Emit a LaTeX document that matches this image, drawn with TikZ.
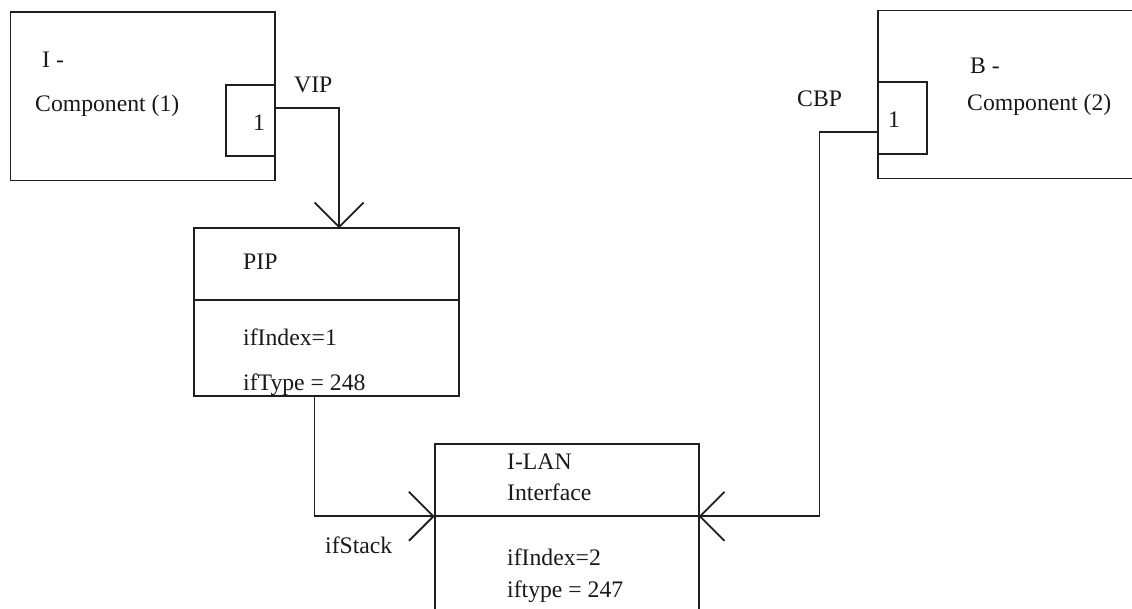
\documentclass[tikz,border=0pt]{standalone}
\usepackage{fontspec}
\setmainfont{Liberation Serif}
\usetikzlibrary{arrows.meta}
\begin{document}
\begin{tikzpicture}[x=1pt,y=-1pt,
  box/.style={draw=black!88,line width=1.8pt,rectangle,inner sep=0pt,outer sep=0pt,anchor=north west},
  lbl/.style={anchor=base west,inner sep=0pt,font=\fontsize{23.7}{28}\selectfont,text=black!90},
  conn/.style={draw=black!88,line width=1.8pt,-{Straight Barb[length=24.5pt,width=49pt,line width=1.8pt]}}]
\clip (0,0) rectangle (1132,609);
\fill[white] (0,0) rectangle (1132,609);
% Component 1
\node[box,minimum width=264.5pt,minimum height=168.5pt] (comp1) at (10.5,12) {};
\node[box,minimum width=49pt,minimum height=71.5pt] (port1) at (226,84.7) {};
\node[lbl] (t1a) at (42,68) {I -};
\node[lbl] (t1b) at (35,111.5) {Component (1)};
\node[lbl] (t1c) at (253,131) {1};
\node[lbl] (vip) at (294,93) {VIP};
% Component 2
\node[box,minimum width=300pt,minimum height=168pt] (comp2) at (878.3,10.5) {};
\node[box,minimum width=48.5pt,minimum height=72pt] (port2) at (878.3,82) {};
\node[lbl] (t2a) at (970,74) {B -};
\node[lbl] (t2b) at (967,111) {Component (2)};
\node[lbl] (t2c) at (888,128) {1};
\node[lbl] (cbp) at (797,107) {CBP};
% PIP
\node[box,minimum width=264.5pt,minimum height=71.8pt] (pipT) at (194.3,228.3) {};
\node[box,minimum width=264.5pt,minimum height=95.9pt] (pipB) at (194.3,300.1) {};
\node[lbl] (tpip) at (243,270) {PIP};
\node[lbl] (tpip1) at (243,345) {ifIndex=1};
\node[lbl] (tpip2) at (243,390) {ifType = 248};
% I-LAN
\node[box,minimum width=264pt,minimum height=72pt] (ilanT) at (434.7,444.3) {};
\node[box,minimum width=264pt,minimum height=150pt] (ilanB) at (434.7,516.3) {};
\node[lbl] (til1) at (507,469) {I-LAN};
\node[lbl] (til2) at (507,500) {Interface};
\node[lbl] (til3) at (507,565) {ifIndex=2};
\node[lbl] (til4) at (507,597) {iftype = 247};
\node[lbl] (ifst) at (325,553) {ifStack};
% connectors
\draw[conn] ([yshift=12.3pt]port1.east) -| ([xshift=12.5pt]pipT.north);
\draw[conn] ([xshift=-12pt]pipB.south) |- (ilanT.south west);
\draw[conn] ([yshift=-14pt]port2.west) -- ++(-58.8,0) |- (ilanT.south east);
\end{tikzpicture}
\end{document}
